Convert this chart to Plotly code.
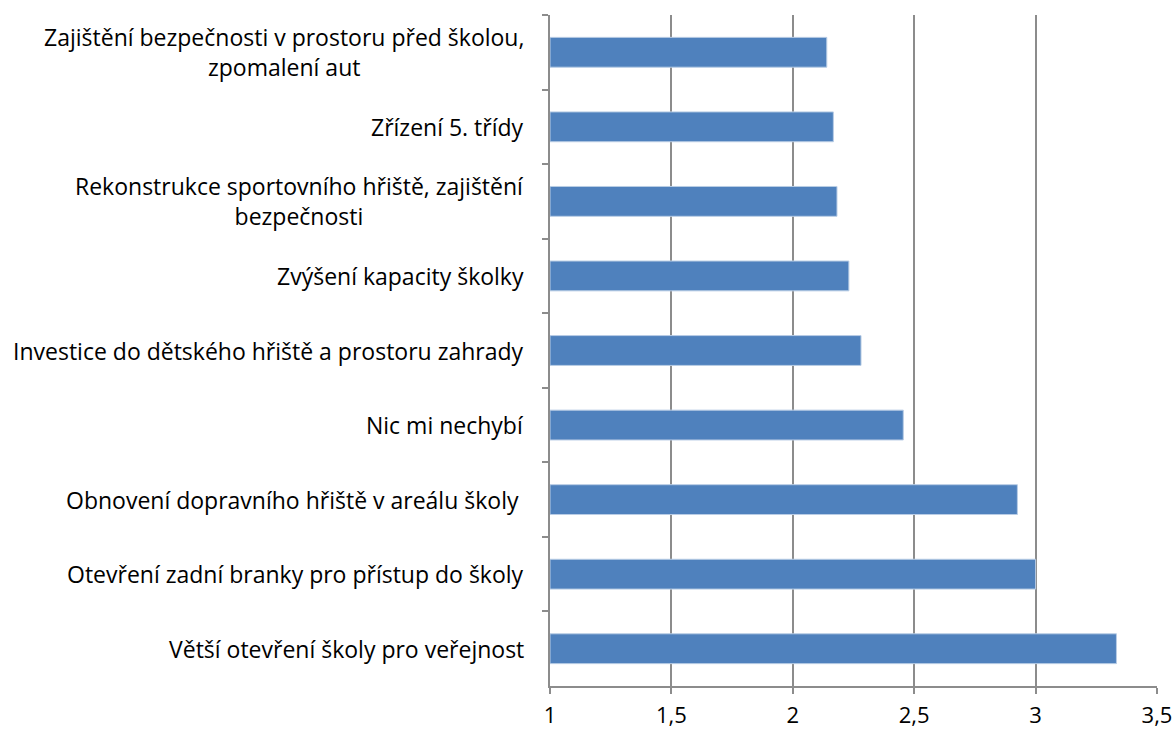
import plotly.graph_objects as go

categories = [
    "Zajištění bezpečnosti v prostoru před školou,<br>zpomalení aut",
    "Zřízení 5. třídy",
    "Rekonstrukce sportovního hřiště, zajištění<br>bezpečnosti",
    "Zvýšení kapacity školky",
    "Investice do dětského hřiště a prostoru zahrady",
    "Nic mi nechybí",
    "Obnovení dopravního hřiště v areálu školy\u00a0",
    "Otevření zadní branky pro přístup do školy",
    "Větší otevření školy pro veřejnost",
]
values = [2.14, 2.167, 2.182, 2.231, 2.281, 2.455, 2.925, 3.0, 3.333]
x_ticks = [1, 1.5, 2, 2.5, 3, 3.5]
x_ticktext = ["1", "1,5", "2", "2,5", "3", "3,5"]
axis_min = 1

fig = go.Figure(go.Bar(
    y=categories, x=[v - axis_min for v in values], base=axis_min,
    orientation="h",
    marker=dict(color="#4F81BD", line=dict(color="#B9CDE5", width=1)),
    hovertemplate="%{y}: %{customdata}<extra></extra>", customdata=values,
))

for c in categories:
    fig.add_annotation(
        x=0, xref="paper", y=c, yref="y", text=c, showarrow=False,
        xanchor="right", yanchor="middle", align="center", xshift=-24,
        font=dict(family="Open Sans", size=23, color="#000000"),
    )

fig.update_layout(
    width=1176, height=731,
    margin=dict(l=550, r=19, t=15, b=45),
    paper_bgcolor="white", plot_bgcolor="white",
    font=dict(family="Open Sans", size=23, color="#000000"),
    bargap=0.6, showlegend=False,
)
fig.update_xaxes(
    range=[1, 3.5], tickvals=x_ticks, ticktext=x_ticktext,
    showgrid=True, gridcolor="#8C8C8C", gridwidth=1.5,
    showline=True, linecolor="#8C8C8C", linewidth=1.5,
    ticks="outside", ticklen=6, tickcolor="#8C8C8C", tickwidth=1.5,
    zeroline=False, tickfont=dict(size=22), ticklabelstandoff=3,
    automargin=False,
)
fig.update_yaxes(
    autorange="reversed", showgrid=False, showticklabels=False,
    showline=True, linecolor="#8C8C8C", linewidth=1.5,
    ticks="outside", ticklen=6, tickcolor="#8C8C8C", tickwidth=1.5,
    tickson="boundaries", automargin=False,
)
fig.write_html(
    "out.html",
    config={"displayModeBar": False},
    post_script="document.body.style.margin='0';document.body.style.overflow='hidden';document.documentElement.style.overflow='hidden';",
)
